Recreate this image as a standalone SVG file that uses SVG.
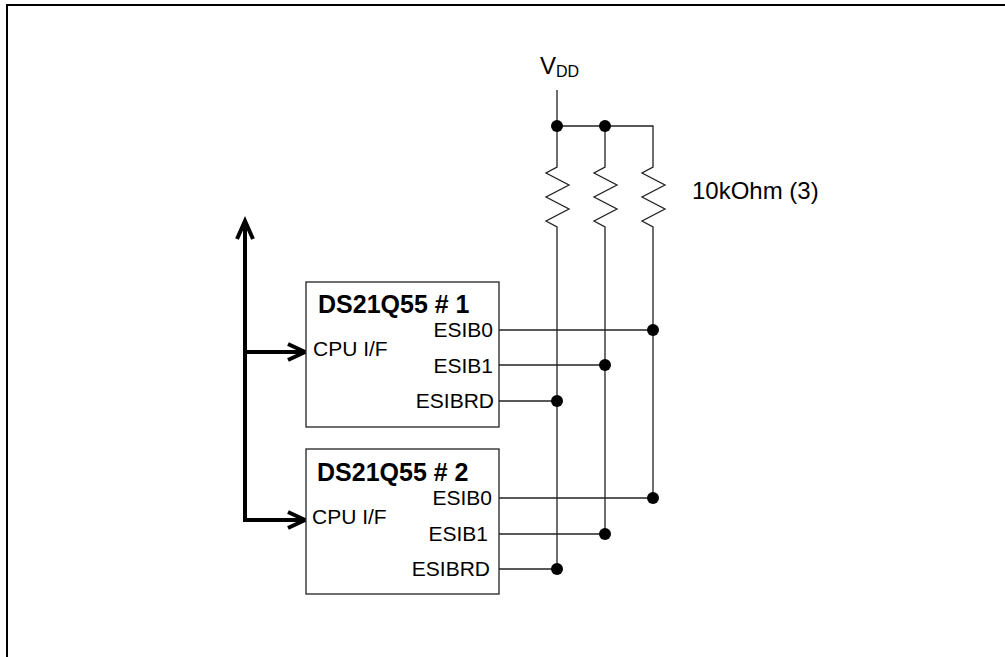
<svg xmlns="http://www.w3.org/2000/svg" width="1005" height="657" viewBox="0 0 1005 657">
<style>
.frame{fill:none;stroke:#000;stroke-width:2}
.w{fill:none;stroke:#222;stroke-width:1.3}
.box{fill:#fff;stroke:#222;stroke-width:1.3}
.bus{fill:none;stroke:#000;stroke-width:4}
.dot{fill:#000}
.t{font-family:"Liberation Sans",Arial,sans-serif;font-size:21px;fill:#000}
.title{font-family:"Liberation Sans",Arial,sans-serif;font-size:25px;font-weight:bold;fill:#000}
.r{text-anchor:end}
</style>
<rect class="frame" x="7" y="5" width="1100" height="800"/>
<g id="connectors">
  <polyline class="w" points="557,90 557,167 546,173 569,185 546,197 569,209 546,221 557,227 557,569"/>
  <polyline class="w" points="605,126 605,167 594,173 617,185 594,197 617,209 594,221 605,227 605,534"/>
  <polyline class="w" points="557,126 653,126 653,167 642,173 665,185 642,197 665,209 642,221 653,227 653,498"/>
  <line class="w" x1="499" y1="330" x2="653" y2="330"/>
  <line class="w" x1="499" y1="365" x2="605" y2="365"/>
  <line class="w" x1="499" y1="401" x2="557" y2="401"/>
  <line class="w" x1="499" y1="498" x2="653" y2="498"/>
  <line class="w" x1="499" y1="534" x2="605" y2="534"/>
  <line class="w" x1="499" y1="569" x2="557" y2="569"/>
  <circle class="dot" cx="557" cy="126" r="6"/>
  <circle class="dot" cx="605" cy="126" r="6"/>
  <circle class="dot" cx="653" cy="330" r="6"/>
  <circle class="dot" cx="605" cy="365" r="6"/>
  <circle class="dot" cx="557" cy="401" r="6"/>
  <circle class="dot" cx="653" cy="498" r="6"/>
  <circle class="dot" cx="605" cy="534" r="6"/>
  <circle class="dot" cx="557" cy="569" r="6"/>
  <polyline class="bus" points="245,222 245,520 304,520"/>
  <line class="bus" x1="245" y1="352" x2="304" y2="352"/>
  <polyline class="bus" points="237,239 245,221 253,239"/>
  <polyline class="bus" points="288,344 305,352 288,360"/>
  <polyline class="bus" points="288,512 305,520 288,528"/>
</g>
<g id="vdd">
  <text class="t" x="540" y="74" style="font-size:24px">V<tspan style="font-size:16px" dy="3">DD</tspan></text>
</g>
<g id="res-label">
  <text class="t" x="692" y="199" style="font-size:24px">10kOhm (3)</text>
</g>
<g id="chip1">
  <rect class="box" x="306" y="282" width="193" height="145"/>
  <text class="title" x="318" y="313">DS21Q55 # 1</text>
  <text class="t" x="313" y="356">CPU I/F</text>
  <text class="t r" x="493" y="337">ESIB0</text>
  <text class="t r" x="493" y="373">ESIB1</text>
  <text class="t r" x="494" y="408">ESIBRD</text>
</g>
<g id="chip2">
  <rect class="box" x="306" y="449" width="193" height="145"/>
  <text class="title" x="317" y="481">DS21Q55 # 2</text>
  <text class="t" x="312" y="524">CPU I/F</text>
  <text class="t r" x="492" y="505">ESIB0</text>
  <text class="t r" x="488" y="541">ESIB1</text>
  <text class="t r" x="490" y="576">ESIBRD</text>
</g>
</svg>
